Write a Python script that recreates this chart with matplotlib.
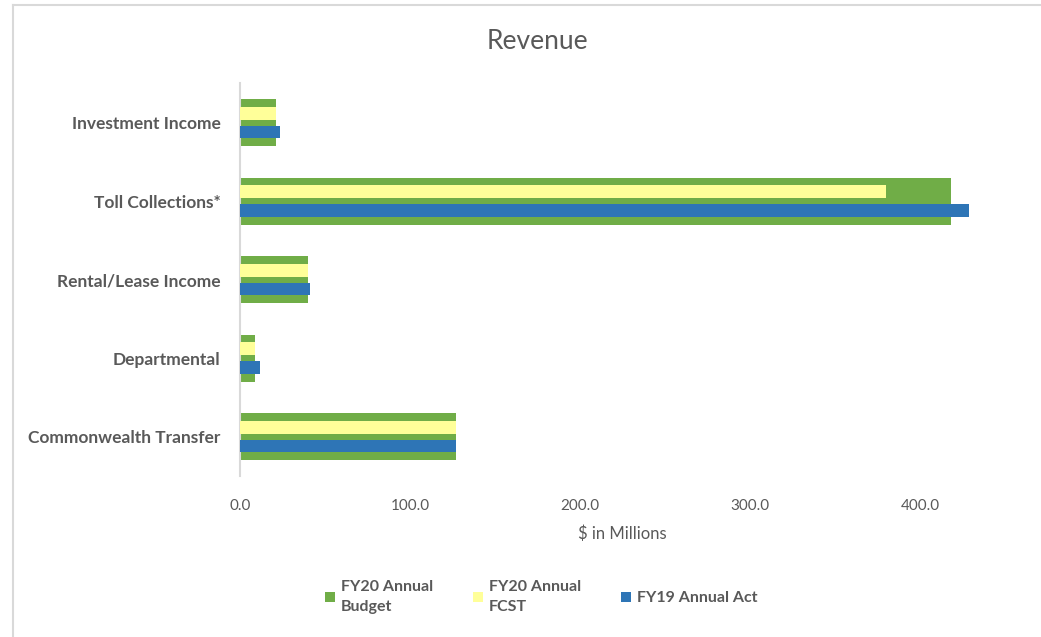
import numpy as np
from matplotlib import pyplot as plt
from matplotlib.lines import Line2D

plt.rcParams['font.family'] = ['Lato', 'DejaVu Sans']

categories = ['Commonwealth Transfer', 'Departmental', 'Rental/Lease Income',
              'Toll Collections*', 'Investment Income']   # bottom to top
budget = [127, 9, 40, 418, 21]     # FY20 Annual Budget
fcst = [127, 9, 40, 380, 21]       # FY20 Annual FCST
actual = [127, 12, 41, 429, 23.5]  # FY19 Annual Act
ticks = [0, 100, 200, 300, 400]

green = '#70AD47'
yellow = '#FFFF99'
blue = '#2E75B6'
txt = '#595959'

fig = plt.figure(figsize=(10.41, 6.37), dpi=100)
ax = fig.add_axes([0.2305, 0.253, 0.735, 0.616])

y = np.arange(len(categories))
ax.barh(y, budget, height=0.6, color=green, label='FY20 Annual\nBudget', zorder=2)
ax.barh(y + 0.12, fcst, height=0.17, color=yellow, label='FY20 Annual\nFCST', zorder=3)
ax.barh(y - 0.12, actual, height=0.16, color=blue, label='FY19 Annual Act', zorder=3)

ax.set_ylim(-0.5, 4.5)
ax.set_xlim(0, 450)
ax.set_yticks(y)
ax.set_yticklabels(categories, fontsize=12.5, fontweight='bold', color=txt)
ax.set_xticks(ticks)
ax.set_xticklabels(['%.1f' % t for t in ticks], fontsize=11, color=txt)
ax.tick_params(axis='both', length=0)
ax.tick_params(axis='x', pad=17)
ax.tick_params(axis='y', pad=14)
for s in ['top', 'right', 'bottom']:
    ax.spines[s].set_visible(False)
ax.spines['left'].set_color('#D9D9D9')
ax.spines['left'].set_linewidth(1.5)

ax.set_xlabel('$ in Millions', fontsize=12, color=txt, labelpad=9)
fig.text(0.516, 0.935, 'Revenue', fontsize=19, color=txt, ha='center', va='center')

leg = fig.legend(loc='center', bbox_to_anchor=(0.52, 0.063), ncol=3, frameon=False,
                 fontsize=11.5, handlelength=0.6, handleheight=0.6, columnspacing=2.5,
                 handletextpad=0.4, labelspacing=0.2)
for t in leg.get_texts():
    t.set_color(txt)
    t.set_fontweight('bold')
    t.set_linespacing(1.6)

# outer chart frame
fig.add_artist(Line2D([13 / 1041, 1], [1 - 5 / 637] * 2, color='#D9D9D9', lw=1.5))
fig.add_artist(Line2D([13 / 1041] * 2, [0, 1 - 5 / 637], color='#D9D9D9', lw=1.5))

fig.savefig('out.png', dpi=100)
